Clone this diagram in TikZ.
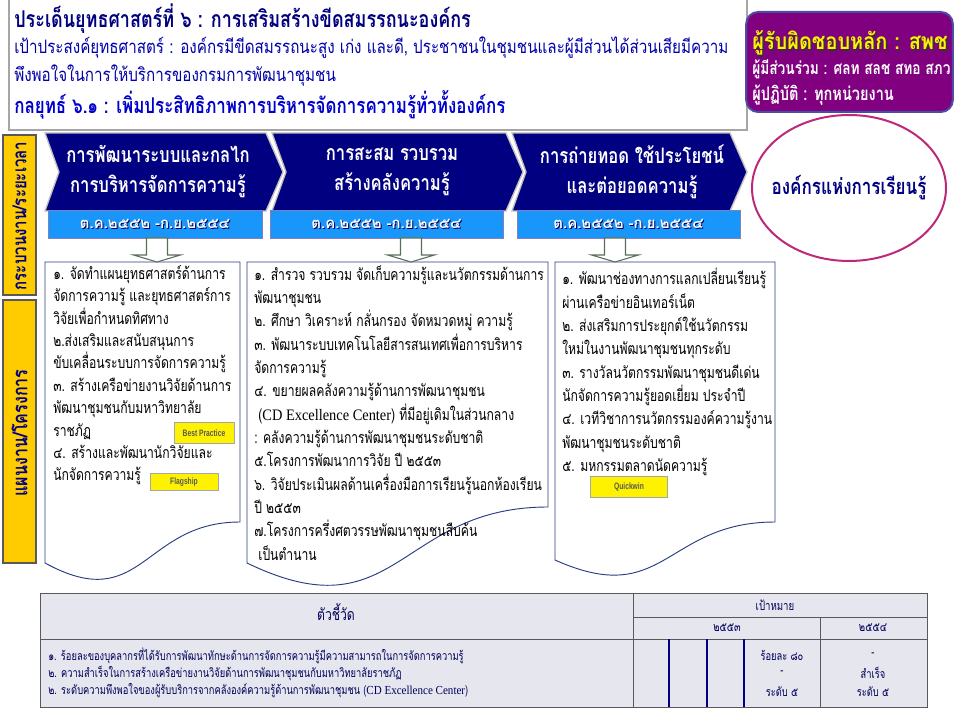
\documentclass[tikz,border=0pt]{standalone}
\usepackage{fontspec}
\setmainfont[Script=Thai]{Loma}
\newfontfamily\thn[Script=Thai,FakeStretch=0.76]{Loma}
\newfontfamily\thh[Script=Thai,FakeStretch=0.82]{Loma}
\newfontfamily\thb[Script=Thai,FakeStretch=0.78]{Loma}
\newfontfamily\thw[Script=Thai,FakeStretch=0.88]{Loma}
\newfontfamily\thd[Script=Thai]{Loma}
\newfontfamily\serifen[FakeStretch=0.9]{Liberation Serif}
\newfontfamily\badgef[FakeStretch=0.72]{Liberation Sans}
\usetikzlibrary{shapes.geometric,calc}
\definecolor{navy}{RGB}{0,0,128}
\definecolor{datebar}{RGB}{25,150,250}
\definecolor{gold}{RGB}{255,204,0}
\definecolor{purp}{RGB}{128,0,128}
\definecolor{ellbd}{RGB}{190,40,120}
\definecolor{boxbd}{RGB}{40,60,130}
\definecolor{tblfill}{RGB}{230,230,238}
\definecolor{tbltext}{RGB}{0,0,90}
\definecolor{titleblue}{RGB}{0,0,170}
\definecolor{arrowbd}{RGB}{90,110,90}
\tikzset{
  chevstyle/.style={fill=navy, draw=gray!50, line width=1pt},
  chevtext/.style={text=white, align=center, font=\thb\bfseries\fontsize{16}{22.5}\selectfont},
  datestyle/.style={fill=datebar, draw=navy!50, line width=0.6pt, minimum height=21pt, inner sep=0pt},
  datetext/.style={text=white, font=\thd\bfseries\fontsize{11.2}{13}\selectfont},
  docstyle/.style={fill=white, draw=boxbd, line width=0.7pt},
  bodytext/.style={anchor=north west, align=left, inner sep=0pt, text=black},
  blockarrow/.style={fill=white, draw=arrowbd, line width=0.8pt},
  badge/.style={fill=yellow, draw=gray!70, line width=0.6pt, inner sep=0pt, text=black!65, font=\badgef\bfseries\fontsize{7}{8}\selectfont},
  goldlabel/.style={fill=gold, draw=gray!70!black, line width=0.8pt},
  goldtext/.style={rotate=90, text=navy, font=\thb\bfseries\fontsize{14.5}{16}\selectfont},
  tbl/.style={draw=gray!70!black, line width=0.6pt},
  tblnavy/.style={draw=navy, line width=0.8pt},
  tbltxt/.style={text=tbltext, inner sep=0pt, font=\thn\fontsize{9.2}{10}\selectfont},
}
\newcommand\docbox[6]{%
  \draw[docstyle] (#2,#4) -- (#3,#4) -- (#3,#5) .. controls ({(#2+#3)/2},#5) and ({(#2+#3)/2},{#6+1.3*(#6-#5)}) .. (#2,#6) -- cycle;
  \coordinate (#1) at ({(#2+#3)/2},#4);
}
\newcommand\chev[3]{%
  \draw[chevstyle] (#1,133) -- (#2,133) -- ({#2+17},172) -- (#2,211) -- (#1,211) -- ({#1+14},172) -- cycle;
}
\newcommand\barrow[3]{% top, bottom
  \draw[blockarrow] ($(#1)+(-10.5,0)$) -- ($(#1)+(10.5,0)$) -- ($(#2)+(10.5,-7)$) -- ($(#2)+(23.5,-7)$) -- (#2) -- ($(#2)+(-23.5,-7)$) -- ($(#2)+(-10.5,-7)$) -- cycle;
}
\begin{document}
\begin{tikzpicture}[x=0.75pt,y=-0.75pt]
\useasboundingbox (0,0) rectangle (960,720);
\fill[white] (0,0) rectangle (960,720);

% header box
\draw[gray!70, line width=1pt] (9,-5) rectangle (747,130);
\node[anchor=west, inner sep=0pt, text=navy, font=\thb\bfseries\fontsize{17.3}{19}\selectfont] (t1) at (14,19) {ประเด็นยุทธศาสตร์ที่ ๖ : การเสริมสร้างขีดสมรรถนะองค์กร};
\node[anchor=west, inner sep=0pt, text=titleblue, font=\thh\fontsize{13.9}{15}\selectfont] (t2) at (14,48) {เป้าประสงค์ยุทธศาสตร์ : องค์กรมีขีดสมรรถนะสูง เก่ง และดี, ประชาชนในชุมชนและผู้มีส่วนได้ส่วนเสียมีความ};
\node[anchor=west, inner sep=0pt, text=titleblue, font=\thh\fontsize{13.9}{15}\selectfont] (t3) at (14,76) {พึงพอใจในการให้บริการของกรมการพัฒนาชุมชน};
\node[anchor=west, inner sep=0pt, text=blue!80!black, font=\thb\bfseries\fontsize{16.3}{18}\selectfont] (t4) at (14,105) {กลยุทธ์ ๖.๑ : เพิ่มประสิทธิภาพการบริหารจัดการความรู้ทั่วทั้งองค์กร};

% responsibility box
\node[fill=purp, draw=navy!70, line width=1.5pt, rounded corners=9pt, minimum width=155pt, minimum height=75pt] (resp) at (849.5,62) {};
\node[anchor=west, inner sep=0pt, text=black!80, font=\thw\bfseries\fontsize{17}{19}\selectfont] (r1s) at (753.5,44.5) {ผู้รับผิดชอบหลัก : สพช};
\node[anchor=west, inner sep=0pt, text=yellow, font=\thw\bfseries\fontsize{17}{19}\selectfont] (r1) at (752,43) {ผู้รับผิดชอบหลัก : สพช};
\node[anchor=west, inner sep=0pt, text=white, font=\thb\bfseries\fontsize{13.2}{16}\selectfont] (r2) at (752,69) {ผู้มีส่วนร่วม : ศลท สลช สทอ สภว};
\node[anchor=west, inner sep=0pt, text=white, font=\thb\bfseries\fontsize{14}{16}\selectfont] (r3) at (752,95) {ผู้ปฏิบัติ : ทุกหน่วยงาน};

% learning organisation ellipse
\node[ellipse, draw=ellbd, line width=1.5pt, fill=white, minimum width=145.5pt, minimum height=109.5pt, inner sep=0pt] (lo) at (849,188) {};
\node[text=navy, font=\thb\bfseries\fontsize{16.4}{18}\selectfont] (lot) at (lo.center) {องค์กรแห่งการเรียนรู้};

% left labels
\draw[goldlabel] (3,135) rectangle (36,295);
\node[goldtext] (lab1) at (19.5,216) {กระบวนงาน/ระยะเวลา};
\draw[goldlabel] (3,300) rectangle (36,563);
\node[goldtext, font=\thb\bfseries\fontsize{15.5}{16}\selectfont] (lab2) at (19.5,433) {แผนงาน/โครงการ};

% chevrons
\chev{45}{266}{c1}
\chev{272}{506}{c2}
\chev{512}{730}{c3}
\node[chevtext] (c1t) at (158,172) {การพัฒนาระบบและกลไก\\การบริหารจัดการความรู้};
\node[chevtext] (c2t) at (392,172) {การสะสม รวบรวม\\สร้างคลังความรู้};
\node[chevtext] (c3t) at (632,172) {การถ่ายทอด ใช้ประโยชน์\\และต่อยอดความรู้};

% date bars
\node[datestyle, minimum width=160.5pt] (bar1) at (155,224) {};
\node[datestyle, minimum width=174.75pt] (bar2) at (386.5,224) {};
\node[datestyle, minimum width=167.25pt] (bar3) at (628.5,224) {};
\foreach \b in {bar1,bar2,bar3}{
  \node[datetext, text=navy!70!black] (\b s) at ($(\b.center)+(1,1)$) {ต.ค.๒๕๕๒ -ก.ย.๒๕๕๔};
  \node[datetext] (\b t) at (\b.center) {ต.ค.๒๕๕๒ -ก.ย.๒๕๕๔};
}

% document boxes
\docbox{box1}{45}{240}{262}{522}{563}
\docbox{box2}{247}{548}{262}{507}{563}
\docbox{box3}{555}{775}{262}{522}{560}

% block arrows
\coordinate (a1s) at (157,238); \coordinate (a1e) at (157,262);
\coordinate (a2s) at (411,238); \coordinate (a2e) at (411,262);
\coordinate (a3s) at (615,238); \coordinate (a3e) at (615,262);
\barrow{a1s}{a1e}{}
\barrow{a2s}{a2e}{}
\barrow{a3s}{a3e}{}

% box texts
\node[bodytext, font=\thn\fontsize{12}{16.8}\selectfont] (b1t) at (53,265) {%
๑. จัดทำแผนยุทธศาสตร์ด้านการ\\
จัดการความรู้ และยุทธศาสตร์การ\\
วิจัยเพื่อกำหนดทิศทาง\\
๒.ส่งเสริมและสนับสนุนการ\\
ขับเคลื่อนระบบการจัดการความรู้\\
๓. สร้างเครือข่ายงานวิจัยด้านการ\\
พัฒนาชุมชนกับมหาวิทยาลัย\\
ราชภัฏ\\
๔. สร้างและพัฒนานักวิจัยและ\\
นักจัดการความรู้};
\node[bodytext, font=\thn\fontsize{12}{17.5}\selectfont] (b2t) at (254,265) {%
๑. สำรวจ รวบรวม จัดเก็บความรู้และนวัตกรรมด้านการ\\
พัฒนาชุมชน\\
๒. ศึกษา วิเคราะห์ กลั่นกรอง จัดหมวดหมู่ ความรู้\\
๓. พัฒนาระบบเทคโนโลยีสารสนเทศเพื่อการบริหาร\\
จัดการความรู้\\
๔. ขยายผลคลังความรู้ด้านการพัฒนาชุมชน\\
\ ({\serifen CD Excellence Center}) ที่มีอยู่เดิมในส่วนกลาง\\
: คลังความรู้ด้านการพัฒนาชุมชนระดับชาติ\\
๕.โครงการพัฒนาการวิจัย ปี ๒๕๕๓\\
๖. วิจัยประเมินผลด้านเครื่องมือการเรียนรู้นอกห้องเรียน\\
ปี ๒๕๕๓\\
๗.โครงการครึ่งศตวรรษพัฒนาชุมชนสืบค้น\\
\ เป็นตำนาน};
\node[bodytext, font=\thn\fontsize{12}{17.5}\selectfont] (b3t) at (562,268) {%
๑. พัฒนาช่องทางการแลกเปลี่ยนเรียนรู้\\
ผ่านเครือข่ายอินเทอร์เน็ต\\
๒. ส่งเสริมการประยุกต์ใช้นวัตกรรม\\
ใหม่ในงานพัฒนาชุมชนทุกระดับ\\
๓. รางวัลนวัตกรรมพัฒนาชุมชนดีเด่น\\
นักจัดการความรู้ยอดเยี่ยม ประจำปี\\
๔. เวทีวิชาการนวัตกรรมองค์ความรู้งาน\\
พัฒนาชุมชนระดับชาติ\\
๕. มหกรรมตลาดนัดความรู้};

% badges
\node[badge, minimum width=45pt, minimum height=15.5pt] (bp) at (204,433) {Best Practice};
\node[badge, minimum width=51pt, minimum height=12.5pt] (fs) at (184,482) {Flagship};
\node[badge, minimum width=58pt, minimum height=15.5pt] (qw) at (629,487) {Quickwin};

% table
\fill[tblfill] (40,593) rectangle (927,707);
\draw[tbl] (40,593) rectangle (927,707);
\draw[tbl] (40,639) -- (927,639);
\draw[tbl] (633,617) -- (927,617);
\draw[tbl] (633,593) -- (633,707);
\draw[tbl] (820,617) -- (820,707);
\draw[tblnavy] (669,639) -- (669,707);
\draw[tblnavy] (707,639) -- (707,707);
\draw[tblnavy] (744,639) -- (744,707);
\node[tbltxt, font=\thn\fontsize{12}{14}\selectfont] (h1) at (336,612) {ตัวชี้วัด};
\node[tbltxt, font=\thn\fontsize{9.5}{11}\selectfont] (h2) at (775,605) {เป้าหมาย};
\node[tbltxt, font=\thn\fontsize{9.5}{11}\selectfont] (h3) at (727,628) {๒๕๕๓};
\node[tbltxt, font=\thn\fontsize{9.5}{11}\selectfont] (h4) at (873,628) {๒๕๕๔};
\node[tbltxt, anchor=west] (d1) at (48,656) {๑. ร้อยละของบุคลากรที่ได้รับการพัฒนาทักษะด้านการจัดการความรู้มีความสามารถในการจัดการความรู้};
\node[tbltxt, anchor=west] (d2) at (48,673) {๒. ความสำเร็จในการสร้างเครือข่ายงานวิจัยด้านการพัฒนาชุมชนกับมหาวิทยาลัยราชภัฏ};
\node[tbltxt, anchor=west] (d3) at (48,691) {๒. ระดับความพึงพอใจของผู้รับบริการจากคลังองค์ความรู้ด้านการพัฒนาชุมชน ({\serifen CD Excellence Center})};
\node[tbltxt] (v1) at (782,655) {ร้อยละ ๘๐};
\node[tbltxt] (v2) at (782,673) {-};
\node[tbltxt] (v3) at (782,692) {ระดับ ๕};
\node[tbltxt] (w1) at (873,655) {-};
\node[tbltxt] (w2) at (873,673) {สำเร็จ};
\node[tbltxt] (w3) at (873,692) {ระดับ ๕};
\end{tikzpicture}
\end{document}
